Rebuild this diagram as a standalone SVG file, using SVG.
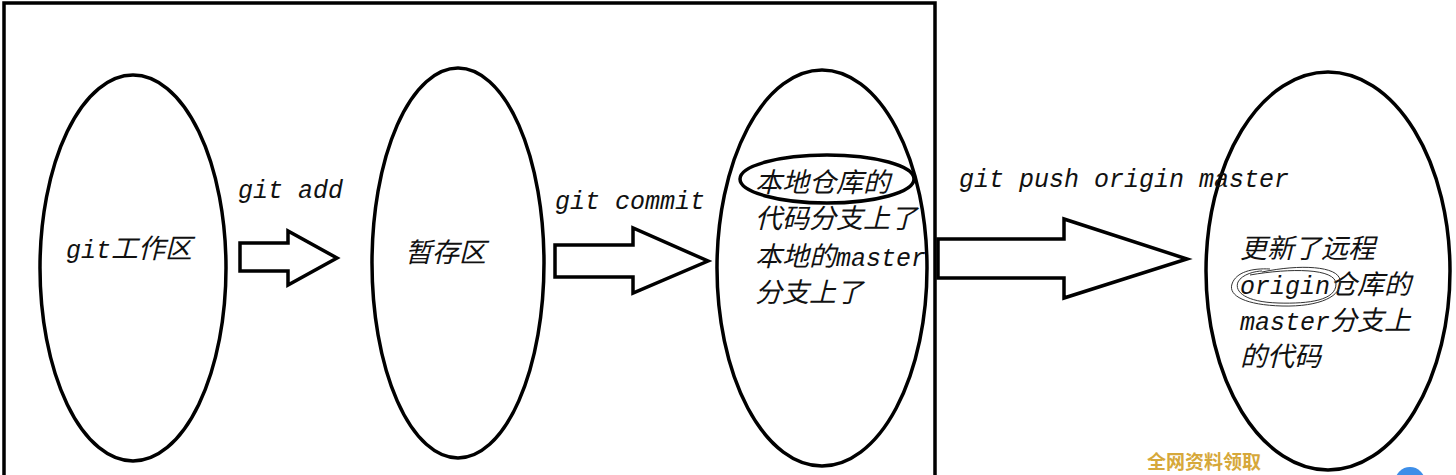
<svg xmlns="http://www.w3.org/2000/svg" width="1456" height="475" viewBox="0 0 1456 475">
<style>
.shape{fill:none;stroke:#000;stroke-width:3.5}
.arrow{fill:#fff;stroke:#000;stroke-width:3.5;stroke-linejoin:miter}
.t{font-family:"Liberation Mono","Noto Sans CJK SC",monospace;font-size:25px;font-style:italic;fill:#111}
.c{font-family:"Noto Sans CJK SC","Liberation Serif",sans-serif;font-size:27px;font-style:italic}
.wm{font-family:"Noto Sans CJK SC",sans-serif;font-size:19px;font-weight:bold;fill:#d6a83a}
</style>
<rect width="1456" height="475" fill="#fff"/>
<g id="frame"><path class="shape" d="M4,480 V3 H935 V480"/></g>
<g id="node-workspace">
<ellipse class="shape" cx="133" cy="268" rx="93" ry="193"/>
<text class="t" x="66" y="258">git<tspan class="c">工作区</tspan></text>
</g>
<g id="node-stage">
<ellipse class="shape" cx="458" cy="263" rx="86" ry="195"/>
<text class="t" x="405" y="262"><tspan class="c">暂存区</tspan></text>
</g>
<g id="node-local">
<ellipse class="shape" cx="822" cy="268" rx="105" ry="198"/>
<ellipse class="shape" cx="827" cy="179" rx="87" ry="24"/>
<text class="t" x="755" y="192"><tspan class="c">本地仓库的</tspan></text>
<text class="t" x="755" y="228"><tspan class="c">代码分支上了</tspan></text>
<text class="t" x="755" y="266"><tspan class="c">本地的</tspan>master</text>
<text class="t" x="755" y="302"><tspan class="c">分支上了</tspan></text>
</g>
<g id="node-remote">
<ellipse class="shape" cx="1328" cy="271" rx="122" ry="199"/>
<text class="t" x="1240" y="258"><tspan class="c">更新了远程</tspan></text>
<text class="t" x="1240" y="294">origin<tspan class="c">仓库的</tspan></text>
<text class="t" x="1240" y="330">master<tspan class="c">分支上</tspan></text>
<text class="t" x="1240" y="366"><tspan class="c">的代码</tspan></text>
<path d="M1262,272 C1300,264 1338,266 1340,280 C1343,296 1320,307 1282,306 C1246,305 1228,296 1232,284 C1236,272 1252,268 1270,269" fill="none" stroke="#333" stroke-width="1"/>
<path d="M1250,275 C1290,268 1336,268 1336,284 C1336,300 1310,304 1278,303 C1246,302 1234,292 1238,282 C1242,274 1256,271 1262,271" fill="none" stroke="#333" stroke-width="1"/>
</g>
<g id="connectors">
<path class="arrow" d="M240,243 H288 V231 L337,258 L288,285 V271 H240 Z"/>
<path class="arrow" d="M555,245 H633 V228 L708,261 L633,293 V277 H555 Z"/>
<path class="arrow" d="M938,239 H1064 V219 L1187,259 L1064,298 V278 H938 Z"/>
<text class="t" x="238" y="198">git add</text>
<text class="t" x="555" y="209">git commit</text>
<text class="t" x="959" y="187">git push origin master</text>
</g>
<g id="watermark">
<text class="wm" x="1147" y="469">全网资料领取</text>
<circle cx="1410" cy="482" r="15" fill="#3d8ee8"/>
</g>
</svg>
